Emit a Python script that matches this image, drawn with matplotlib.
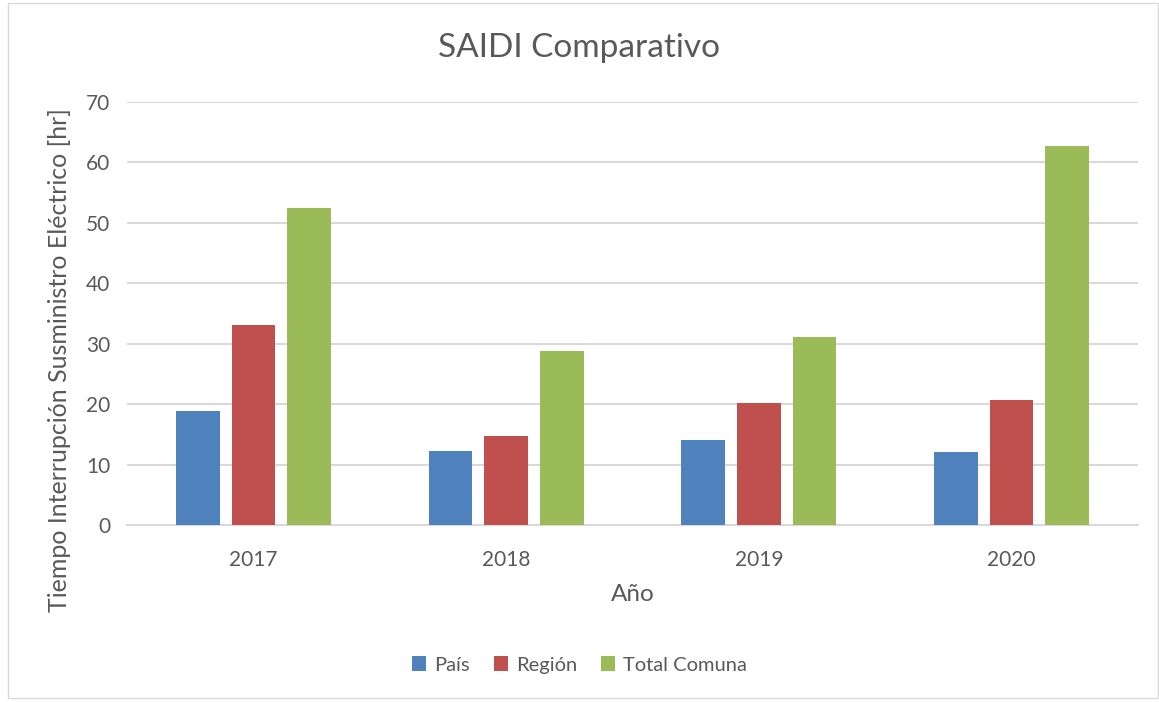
import numpy as np
import matplotlib.pyplot as plt
from matplotlib.patches import Rectangle

years = ['2017', '2018', '2019', '2020']
pais = [18.8, 12.2, 14.0, 12.1]
region = [33.1, 14.7, 20.2, 20.7]
comuna = [52.5, 28.8, 31.1, 62.7]

series = ['País', 'Región', 'Total Comuna']
colors = ['#4f81bd', '#c0504d', '#9bbb59']

plt.rcParams['font.family'] = ['Lato', 'DejaVu Sans']
txt = '#595959'

fig = plt.figure(figsize=(11.59, 7.02), dpi=100)
ax = fig.add_axes([127 / 1159, 1 - 525 / 702, (1138 - 127) / 1159, (525 - 102) / 702])

x = np.arange(len(years))
w = 0.173
step = 0.22
for i, (vals, lab, c) in enumerate(zip([pais, region, comuna], series, colors)):
    ax.bar(x + (i - 1) * step, vals, width=w, color=c, label=lab, zorder=3)

ax.set_xlim(-0.5, 3.5)
ax.set_ylim(0, 70)
ax.set_yticks(range(0, 71, 10))
ax.set_xticks(x)
ax.set_xticklabels(years)
ax.grid(axis='y', color='#d9d9d9', linewidth=1.5, zorder=0)
for s in ['top', 'right', 'left']:
    ax.spines[s].set_visible(False)
ax.spines['bottom'].set_color('#d9d9d9')
ax.spines['bottom'].set_linewidth(1.5)
ax.tick_params(length=0, labelsize=15, colors=txt)
ax.tick_params(axis='x', pad=18)
ax.tick_params(axis='y', pad=12)

ax.set_xlabel('Año', fontsize=17.5, color=txt, labelpad=10)
ax.set_ylabel('Tiempo Interrupción Susministro Eléctrico [hr]', fontsize=18, color=txt)
ax.yaxis.set_label_coords(-(127 - 71) / 1011, (525 - 360) / 423)
fig.text(0.5, 1 - 48 / 702, 'SAIDI Comparativo', ha='center', va='center', fontsize=24, color=txt)

fig.legend(loc='center', bbox_to_anchor=(0.5, 1 - 665 / 702), ncol=3, frameon=False,
           fontsize=14.5, labelcolor=txt, handlelength=0.7, handleheight=0.7,
           handletextpad=0.4, columnspacing=1.2)

fig.patches.append(Rectangle((8 / 1159, 0.005), 1 - 8 / 1159 - 0.001, 1 - 0.005 - 3 / 702,
                             transform=fig.transFigure, fill=False,
                             edgecolor='#d9d9d9', linewidth=1))

fig.savefig('out.png', dpi=100)
